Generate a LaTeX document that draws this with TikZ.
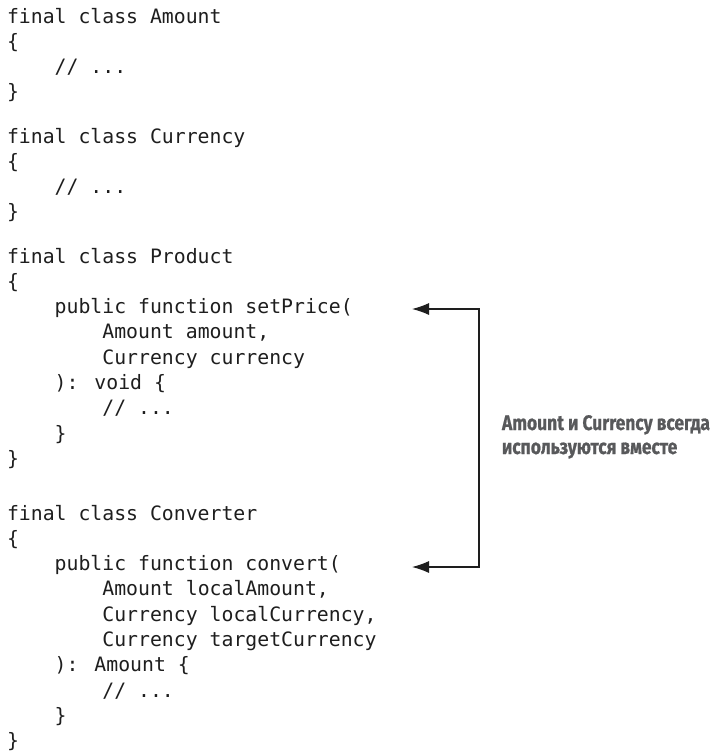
\documentclass[tikz,border=0pt]{standalone}
\usepackage{fontspec}
\usetikzlibrary{arrows.meta}
\newfontfamily\codefont{DejaVu Sans Mono}
\newfontfamily\lblfont[FakeStretch=0.83,BoldFeatures={FakeBold=0.8}]{Fira Sans}
\definecolor{codecol}{HTML}{1E1E1E}
\definecolor{lblcol}{HTML}{58595B}
\tikzset{
  code/.style={anchor=base west, inner sep=0pt, outer sep=0pt, text=codecol,
    font=\codefont\fontsize{19.8}{24}\selectfont},
  lbl/.style={anchor=base west, inner sep=0pt, outer sep=0pt, text=lblcol,
    font=\lblfont\bfseries\fontsize{21}{24}\selectfont},
  conn/.style={draw=codecol, line width=1.1pt, {Latex[length=17pt,width=12pt]}-{Latex[length=17pt,width=12pt]}}
}
\begin{document}
\begin{tikzpicture}[x=1pt,y=-1pt]
\useasboundingbox[fill=white] (0,0) rectangle (712,753);
\def\s{25.3}
\def\xa{7}
\def\xb{54.7}
\def\xc{102.4}
% Amount
\node[code] (a1) at (\xa,23) {final class Amount};
\node[code] (a2) at (\xa,23+\s) {\{};
\node[code] (a3) at (\xb,23+2*\s) {// ...};
\node[code] (a4) at (\xa,23+3*\s) {\}};
% Currency
\node[code] (c1) at (\xa,143) {final class Currency};
\node[code] (c2) at (\xa,143+\s) {\{};
\node[code] (c3) at (\xb,143+2*\s) {// ...};
\node[code] (c4) at (\xa,143+3*\s) {\}};
% Product
\node[code] (p1) at (\xa,263) {final class Product};
\node[code] (p2) at (\xa,263+\s) {\{};
\node[code] (p3) at (\xb,263+2*\s) {public function setPrice(};
\node[code] (p4) at (\xc,263+3*\s) {Amount amount,};
\node[code] (p5) at (\xc,263+4*\s) {Currency currency};
\node[code] (p6) at (\xb,263+5*\s) {): void \{};
\node[code] (p7) at (\xc,263+6*\s) {// ...};
\node[code] (p8) at (\xb,263+7*\s) {\}};
\node[code] (p9) at (\xa,263+8*\s) {\}};
% Converter
\node[code] (v1) at (\xa,520) {final class Converter};
\node[code] (v2) at (\xa,520+\s) {\{};
\node[code] (v3) at (\xb,520+2*\s) {public function convert(};
\node[code] (v4) at (\xc,520+3*\s) {Amount localAmount,};
\node[code] (v5) at (\xc,520+4*\s) {Currency localCurrency,};
\node[code] (v6) at (\xc,520+5*\s) {Currency targetCurrency};
\node[code] (v7) at (\xb,520+6*\s) {): Amount \{};
\node[code] (v8) at (\xc,520+7*\s) {// ...};
\node[code] (v9) at (\xb,520+8*\s) {\}};
\node[code] (v10) at (\xa,520+9*\s) {\}};
% label
\node[lbl] (l1) at (502,430) {Amount и Currency всегда};
\node[lbl] (l2) at (502,454) {используются вместе};
% connector
\coordinate (t1) at (412,309);
\coordinate (b1) at (479,309);
\coordinate (b2) at (479,567);
\coordinate (t2) at (412,567);
\draw[conn] (t1) -- (b1) -- (b2) -- (t2);
\end{tikzpicture}
\end{document}
